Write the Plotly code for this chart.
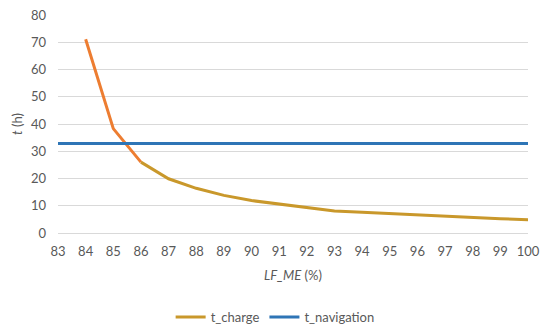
import plotly.graph_objects as go

lf_me = [84, 85, 86, 87, 88, 89, 90, 91, 92, 93, 94, 95, 96, 97, 98, 99, 100]
t_charge = [71.1, 38.3, 26.0, 19.9, 16.4, 13.8, 11.9, 10.6, 9.3, 8.1, 7.6, 7.1, 6.6, 6.1, 5.8, 5.2, 4.9]
t_navigation = [32.8] * len(lf_me)
split = 2  # index where the line turns from orange to gold

fig = go.Figure()
fig.add_trace(go.Scatter(x=lf_me[:split + 1], y=t_charge[:split + 1], mode="lines",
                         line=dict(color="#ED7D31", width=3), showlegend=False, hoverinfo="skip"))
fig.add_trace(go.Scatter(x=lf_me[split:], y=t_charge[split:], mode="lines", name="t_charge",
                         line=dict(color="#C9982B", width=3)))
fig.add_trace(go.Scatter(x=[83] + lf_me, y=[t_navigation[0]] + t_navigation, mode="lines",
                         name="t_navigation", line=dict(color="#2E75B6", width=3)))

font = "Lato, 'Noto Sans', sans-serif"
# page body has an 8px default margin, so the figure is offset by 8px
fig.update_layout(
    width=542, height=327,
    margin=dict(l=50, r=22, t=7, b=102, autoexpand=False),
    paper_bgcolor="white", plot_bgcolor="white",
    font=dict(family=font, size=13, color="#595959"),
    xaxis=dict(range=[83, 100], tickmode="linear", dtick=1, showgrid=False, zeroline=False,
               showline=False, ticks="", ticklabelstandoff=9, automargin=False,
               ticklabeloverflow="allow",
               title=dict(text="<i>LF_ME</i> (%)", font=dict(size=13, color="#595959"), standoff=12)),
    yaxis=dict(range=[0, 80], dtick=10, showgrid=True, gridcolor="#D9D9D9", gridwidth=1,
               zeroline=True, zerolinecolor="#D9D9D9", zerolinewidth=1, ticks="",
               ticklabelstandoff=11, automargin=False, ticklabeloverflow="allow",
               title=dict(text="<i>t</i> (h)", font=dict(size=13, color="#595959"), standoff=5)),
    legend=dict(orientation="h", x=0.462, xanchor="center", y=-0.385, yanchor="middle",
                font=dict(size=13, color="#595959")),
)
fig.write_html("out.html")
